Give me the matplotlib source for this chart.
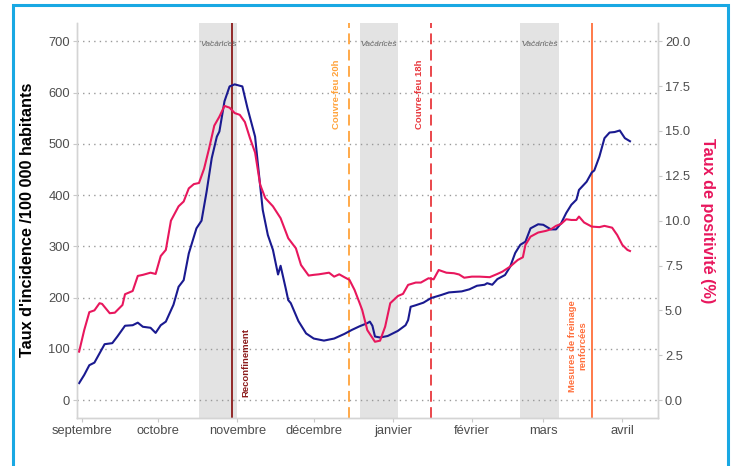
import numpy as np
import matplotlib
matplotlib.use("Agg")
import matplotlib.pyplot as plt
from matplotlib.patches import Rectangle

plt.rcParams["font.family"] = ["Liberation Sans", "DejaVu Sans"]

# days counted from 2020-09-01
START = np.datetime64("2020-09-01T00")

inc_days = [-1, 1, 3, 5, 7, 9, 12, 14, 17, 20, 22, 24, 27, 29, 31, 33, 36, 38, 40, 42,
            45, 47, 49, 51, 53, 54, 56, 58, 60, 63, 65, 68, 69, 71, 73, 75, 77, 78, 80, 81,
            82, 85, 88, 91, 95, 99, 103, 106, 109, 112, 113, 114, 115, 117, 120, 124, 127,
            128, 129, 131, 134, 137, 141, 144, 149, 152, 155, 158, 159, 161, 163, 166, 168,
            170, 172, 174, 176, 179, 181, 184, 186, 188, 190, 192, 194, 195, 198, 200, 201,
            203, 205, 207, 209, 211, 213, 215]
incidence = [33, 49, 68, 73, 91, 109, 111, 124, 145, 146, 151, 143, 141, 131, 146, 153, 186,
             221, 234, 286, 335, 350, 407, 472, 514, 524, 583, 612, 616, 612, 570, 514, 465,
             371, 322, 293, 245, 262, 218, 195, 189, 154, 130, 120, 116, 120, 129, 137, 144,
             150, 153, 145, 124, 122, 125, 135, 146, 156, 182, 185, 190, 199, 205, 210, 212,
             216, 223, 225, 228, 225, 236, 244, 260, 287, 303, 309, 335, 343, 342, 333, 333,
             345, 365, 381, 391, 410, 426, 444, 448, 475, 511, 522, 523, 526, 511, 505]

pos_days = [-1, 1, 3, 5, 7, 8, 11, 13, 16, 17, 20, 22, 24, 27, 29, 31, 33, 35, 38, 40, 42,
            44, 46, 48, 50, 52, 54, 56, 58, 60, 62, 64, 66, 68, 70, 72, 75, 78, 81, 84, 86,
            89, 91, 93, 97, 99, 101, 103, 105, 107, 109, 110, 112, 115, 117, 119, 121, 124,
            126, 128, 131, 133, 136, 138, 140, 143, 146, 148, 150, 153, 156, 160, 163, 165,
            168, 171, 173, 174, 176, 179, 182, 184, 186, 188, 190, 192, 194, 195, 197, 200,
            203, 205, 208, 210, 212, 214, 215]
positivity = [2.7, 3.9, 4.9, 5.0, 5.4, 5.36, 4.84, 4.87, 5.3, 5.9, 6.08, 6.92, 6.98, 7.1,
              7.03, 8.03, 8.37, 10.0, 10.8, 11.07, 11.8, 12.04, 12.1, 12.9, 14.05, 15.3, 15.8,
              16.4, 16.3, 16.0, 15.9, 15.5, 14.6, 13.8, 12.0, 11.26, 10.8, 10.14, 9.02, 8.46,
              7.53, 6.94, 6.98, 7.01, 7.1, 6.88, 7.01, 6.85, 6.7, 6.14, 5.4, 5.02, 3.9, 3.25,
              3.31, 4.09, 5.4, 5.8, 5.92, 6.42, 6.55, 6.55, 6.79, 6.73, 7.25, 7.1, 7.07, 7.0,
              6.82, 6.88, 6.88, 6.85, 7.03, 7.16, 7.44, 7.81, 7.96, 8.65, 9.11, 9.34, 9.43,
              9.52, 9.71, 9.82, 10.08, 10.04, 10.04, 10.23, 9.9, 9.67, 9.64, 9.71, 9.61, 9.2,
              8.65, 8.37, 8.31]

month_days = [0, 30, 61, 91, 122, 153, 181, 212]
month_labels = ["septembre", "octobre", "novembre", "décembre", "janvier", "février", "mars", "avril"]

holidays = [(46, 61), (109, 124), (172, 187)]  # Toussaint, Noël, hiver

events = [  # day, color, style, label, label day, label y, va
    (59, "#8b1a1a", "-", "Reconfinement", 64.3, 5, "bottom"),
    (105, "#ffa23a", (0, (6, 3)), "Couvre-feu 20h", 100.1, 597, "center"),
    (137, "#e8383d", (0, (6, 3)), "Couvre-feu 18h", 132.3, 597, "center"),
    (200, "#ff6f3c", "-", "Mesures de freinage\nrenforcées", 194.6, 106, "center"),
]

BLUE = "#1a1a90"
PINK = "#e8175d"
RATIO = 35.0
GRAY = "#4d4d4d"


def d(x):
    hours = np.round(np.asarray(x, dtype=float) * 24).astype(int)
    return START + hours.astype("timedelta64[h]")


fig = plt.figure(figsize=(7.34, 4.66), dpi=100)
ax = fig.add_axes([0.1049, 0.1036, 0.7916, 0.847])
ax2 = ax.twinx()

ymin, ymax = -34.5, 735.7
ax.set_ylim(ymin, ymax)
ax2.set_ylim(ymin / RATIO, ymax / RATIO)
ax.set_xlim(d(-1.84), d(226))

for a, b in holidays:
    ax.axvspan(d(a), d(b), color="#e3e3e3", lw=0, zorder=0)
    ax.text(d((a + b) / 2), 694, "Vacances", style="italic", fontsize=6,
            color="#666666", ha="center", va="center", zorder=3)

ax.set_yticks(range(0, 701, 100))
ax.grid(axis="y", color="#9a9a9a", linestyle=(0, (1, 3)), lw=1.0)
ax.grid(axis="x", visible=False)

for day, col, ls, lab, lday, ly, va in events:
    ax.axvline(d(day), color=col, ls=ls, lw=1.3, zorder=2)
    ax.text(d(lday), ly, lab, rotation=90, color=col, fontsize=6.8, fontweight="bold",
            ha="center", va=va, multialignment="center", zorder=3)

ax.plot(d(inc_days), incidence, color=BLUE, lw=1.5, zorder=4)
ax2.plot(d(pos_days), positivity, color=PINK, lw=1.5, zorder=4)

ax.set_xticks(d(month_days))
ax.set_xticklabels(month_labels)
ax2.set_yticks(np.arange(0, 20.1, 2.5))
ax2.set_yticklabels([f"{v:.1f}" for v in np.arange(0, 20.1, 2.5)])

for a in (ax, ax2):
    a.tick_params(length=3, width=0.8, color="#c8c8c8", labelcolor=GRAY, labelsize=9.3, pad=2)
    for s in a.spines.values():
        s.set_color("#d4d4d4")
        s.set_linewidth(1.0)
    a.spines["top"].set_visible(False)

fig.text(28 / 734, 1 - 220 / 466, "Taux d'incidence /100 000 habitants", rotation=90,
         fontsize=11.7, fontweight="bold", color="black", ha="center", va="center")
fig.text(708 / 734, 1 - 221 / 466, "Taux de positivité (%)", rotation=270,
         fontsize=11.7, fontweight="bold", color=PINK, ha="center", va="center")

fig.add_artist(Rectangle((12.5 / 734, -0.1), (727.5 - 12.5) / 734, 1.1 - 5.5 / 466,
                         transform=fig.transFigure, fill=False, edgecolor="#19a8e3", lw=2.2))

fig.savefig("out.png", dpi=100)
